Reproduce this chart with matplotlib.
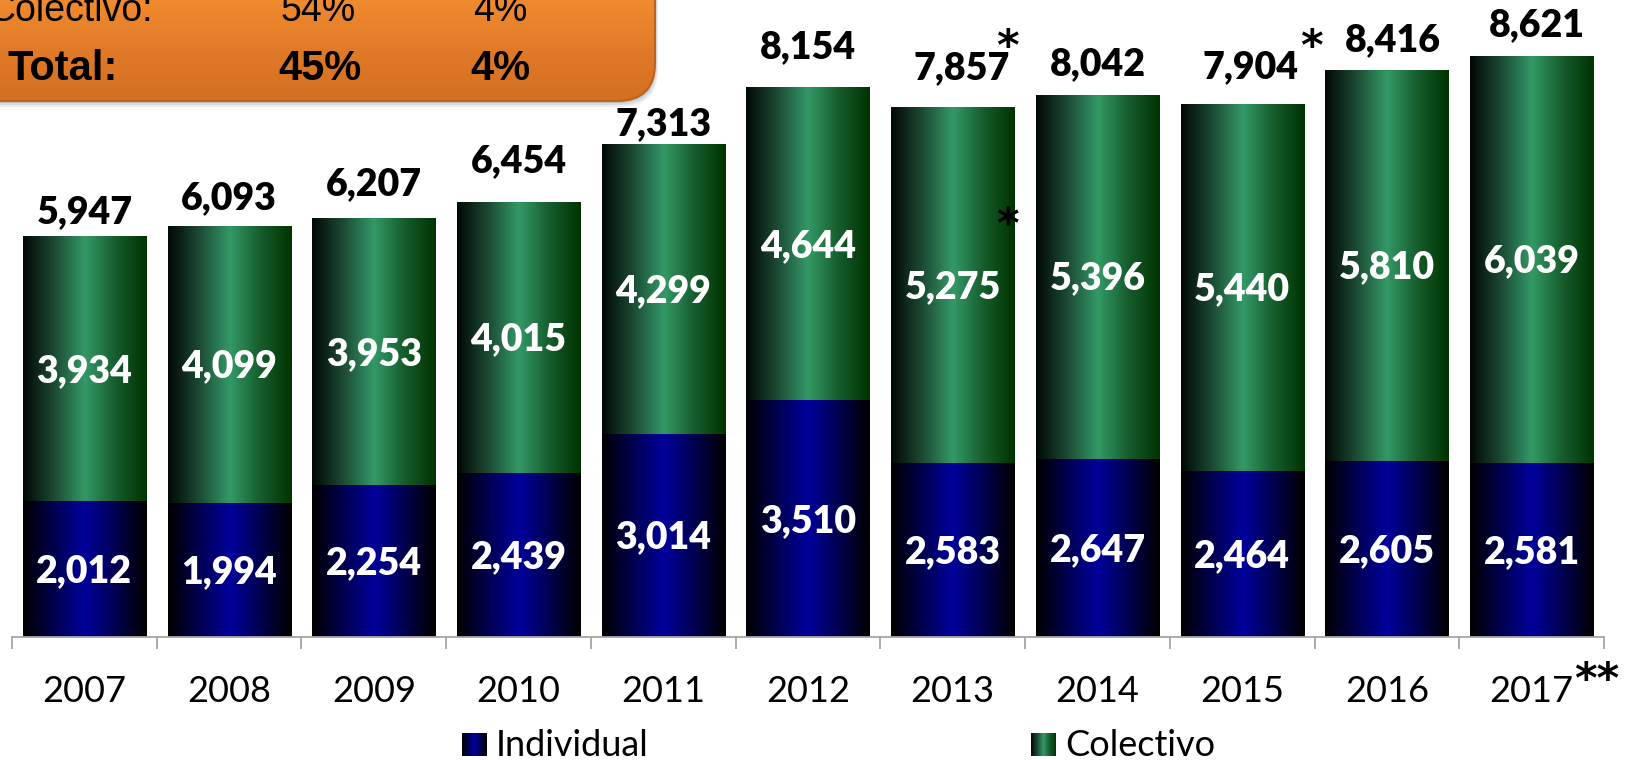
import numpy as np
import matplotlib.pyplot as plt
from matplotlib.colors import LinearSegmentedColormap
from matplotlib.patches import FancyBboxPatch

# ---------------- data ----------------
years = ["2007", "2008", "2009", "2010", "2011", "2012",
         "2013", "2014", "2015", "2016", "2017"]
individual = [2012, 1994, 2254, 2439, 3014, 3510, 2583, 2647, 2464, 2605, 2581]
colectivo = [3934, 4099, 3953, 4015, 4299, 4644, 5275, 5396, 5440, 5810, 6039]
totals = [5947, 6093, 6207, 6454, 7313, 8154, 7857, 8042, 7904, 8416, 8621]

box_rows = ["Colectivo:", "Total:"]
box_col1 = ["54%", "45%"]
box_col2 = ["4%", "4%"]

legend_labels = ["Individual", "Colectivo"]

# label placement tweaks (pixels): gap above bar, horizontal shift
tot_gap = [13, 17, 23, 30, 9, 29, 28, 20, 26, 18, 20]
tot_dx = [0, 0, 0, 0, 0, 0, 9, 0, 8, 6, 5]

# ---------------- style ----------------
W, H = 1630, 760
DPI = 100
num_font = "Lato"
box_font = "Liberation Sans"

cm_green = LinearSegmentedColormap.from_list("g", ["#010805", "#1c4a33", "#339966", "#165c2c", "#003300"])
cm_blue = LinearSegmentedColormap.from_list("b", ["#000000", "#000050", "#00009c", "#000050", "#000000"])
cm_orange = LinearSegmentedColormap.from_list("o", ["#f18b2f", "#e07a28", "#d36f22"])
grad = np.linspace(0, 1, 256).reshape(1, -1)

fig = plt.figure(figsize=(W / DPI, H / DPI), dpi=DPI)

# main axes in pixel placement
ax_left, ax_right, ax_base = 12, 1604, 637
ax = fig.add_axes([ax_left / W, (H - ax_base) / H, (ax_right - ax_left) / W, ax_base / H])
px_per_unit = 0.06743
ax.set_xlim(-0.5, len(years) - 0.5)
ax.set_ylim(0, ax_base / px_per_unit)
ax.patch.set_alpha(0)

x = np.arange(len(years))
bars_ind = ax.bar(x, individual, width=0.85, color="none", linewidth=0)
bars_col = ax.bar(x, colectivo, bottom=individual, width=0.85, color="none", linewidth=0)


def fill_gradient(patch, cmap):
    bx, by = patch.get_xy()
    im = ax.imshow(grad, cmap=cmap, aspect="auto", interpolation="bicubic",
                   extent=[bx, bx + patch.get_width(), by, by + patch.get_height()], zorder=2)
    im.set_clip_path(patch)


for p in bars_ind:
    fill_gradient(p, cm_blue)
for p in bars_col:
    fill_gradient(p, cm_green)
ax.set_xlim(-0.5, len(years) - 0.5)
ax.set_ylim(0, ax_base / px_per_unit)

num_kw = dict(textcoords="offset pixels", ha="center", va="baseline",
              fontsize=27, fontweight="heavy", family=num_font, zorder=4)

# inner labels
for i in range(len(years)):
    ax.annotate(f"{individual[i]:,}", (x[i], individual[i] / 2), xytext=(0, -13),
                color="white", **num_kw)
    ax.annotate(f"{colectivo[i]:,}", (x[i], individual[i] + colectivo[i] / 2), xytext=(0, -13),
                color="white", **num_kw)
    ax.annotate(f"{totals[i]:,}", (x[i], individual[i] + colectivo[i]), xytext=(tot_dx[i], tot_gap[i]),
                color="black", **num_kw)
    ax.annotate(years[i], (x[i], 0), xycoords=("data", "axes fraction"), xytext=(0, -65),
                textcoords="offset pixels", ha="center", va="baseline",
                fontsize=26, color="black", family=num_font)

# axis line and category ticks
for s in ["top", "left", "right"]:
    ax.spines[s].set_visible(False)
ax.spines["bottom"].set_color("#a6a6a6")
ax.spines["bottom"].set_linewidth(1.3)
ax.set_yticks([])
ax.set_xticks([])
ax.set_xticks(np.arange(-0.5, len(years)), minor=True)
ax.tick_params(axis="x", which="minor", length=8.6, width=1.3, color="#a6a6a6", direction="out")

# ---------------- overlay in pixel coordinates ----------------
ov = fig.add_axes([0, 0, 1, 1], zorder=5)
ov.set_xlim(0, W)
ov.set_ylim(H, 0)
ov.axis("off")
ov.patch.set_alpha(0)

# orange note box
bx0, by0, bx1, by1 = -60, -60, 655, 101
for k, a in enumerate([0.10, 0.12, 0.16]):
    off = 6 - 2 * k
    sh = FancyBboxPatch((bx0 + off * 0.5, by0 + off), bx1 - bx0, by1 - by0,
                        boxstyle="round,pad=0,rounding_size=38", fc="#555555", ec="none", alpha=a)
    ov.add_patch(sh)
box = FancyBboxPatch((bx0, by0), bx1 - bx0, by1 - by0, boxstyle="round,pad=0,rounding_size=38",
                     fc="none", ec="#b8651f", lw=1.5, zorder=3)
ov.add_patch(box)
im = ov.imshow(grad.T, cmap=cm_orange, aspect="auto", extent=[bx0, bx1, by1, 0], zorder=2)
im.set_clip_path(box)

row_base = [21, 80]
ov.text(153, row_base[0], box_rows[0], ha="right", va="baseline", fontsize=27, family=box_font, zorder=4)
ov.text(281, row_base[0], box_col1[0], ha="left", va="baseline", fontsize=27, family=box_font, zorder=4)
ov.text(473, row_base[0], box_col2[0], ha="left", va="baseline", fontsize=27, family=box_font, zorder=4)
ov.text(7, row_base[1], box_rows[1], ha="left", va="baseline", fontsize=30, fontweight="bold",
        family=box_font, zorder=4)
ov.text(278, row_base[1], box_col1[1], ha="left", va="baseline", fontsize=30, fontweight="bold",
        family=box_font, zorder=4)
ov.text(470, row_base[1], box_col2[1], ha="left", va="baseline", fontsize=30, fontweight="bold",
        family=box_font, zorder=4)

# footnote asterisks
for (sx, sy, s) in [(1007, 36, "*"), (1007, 214, "*"), (1311, 36, "*"), (1597, 669, "**")]:
    ov.text(sx, sy + 24, s, ha="center", va="baseline", fontsize=31, fontweight="bold",
            family="DejaVu Sans", zorder=6)

# legend
for (sx, cmap, lab) in [(462, cm_blue, legend_labels[0]), (1031, cm_green, legend_labels[1])]:
    ov.imshow(grad, cmap=cmap, aspect="auto", extent=[sx, sx + 25, 756, 733], zorder=2)
    ov.text(sx + 34, 756, lab, ha="left", va="baseline", fontsize=26, family=num_font)

ov.set_xlim(0, W)
ov.set_ylim(H, 0)

fig.savefig("out.png", dpi=DPI)
